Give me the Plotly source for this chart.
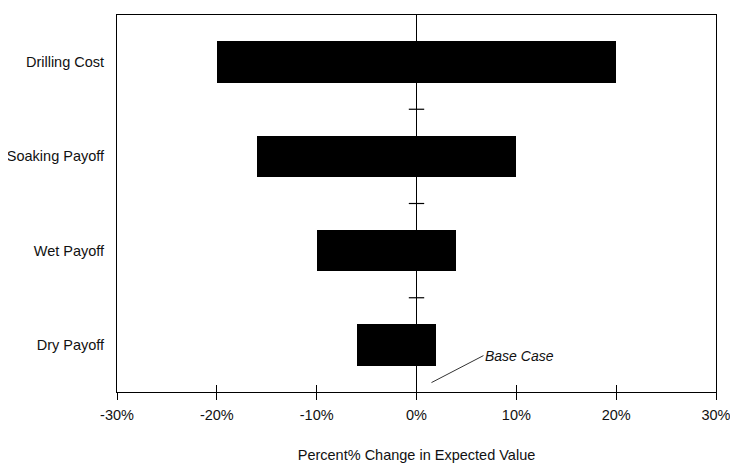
import plotly.graph_objects as go

# Data (bottom to top)
categories = ["Dry Payoff", "Wet Payoff", "Soaking Payoff", "Drilling Cost"]
low_values = [-6, -10, -16, -20]      # percent change, downside
high_values = [2, 4, 10, 20]          # percent change, upside
x_ticks = [-30, -20, -10, 0, 10, 20, 30]
x_tick_labels = ["-30%", "-20%", "-10%", "0%", "10%", "20%", "30%"]
divider_pos = [0.5, 1.5, 2.5]

ypos = list(range(len(categories)))
FONT = "Liberation Sans, Arial, sans-serif"

fig = go.Figure()
fig.add_trace(go.Bar(
    y=ypos,
    x=[h - l for l, h in zip(low_values, high_values)],
    base=low_values,
    orientation="h",
    width=0.44,
    marker=dict(color="black", line=dict(width=0)),
    showlegend=False,
    hoverinfo="skip",
))
# small tick marks on the zero line between categories
fig.add_trace(go.Scatter(
    x=[0] * len(divider_pos), y=divider_pos, mode="markers",
    marker=dict(symbol="line-ew", size=11, line=dict(color="black", width=1.2)),
    showlegend=False, hoverinfo="skip",
))
# dummy trace for overlay axis (inside ticks)
fig.add_trace(go.Scatter(x=[0], y=[0], xaxis="x2", yaxis="y", mode="markers",
                         marker=dict(opacity=0), showlegend=False, hoverinfo="skip"))

# page body has an 8px default margin, so the figure is sized to fit the window
fig.update_layout(
    width=730, height=456,
    margin=dict(l=109, r=22, t=7, b=72),
    paper_bgcolor="white", plot_bgcolor="white",
    font=dict(family=FONT, size=14.5, color="#111"),
    bargap=0,
    xaxis=dict(
        range=[-30, 30], tickvals=x_ticks, ticktext=x_tick_labels,
        ticks="outside", ticklen=7, tickcolor="black", tickwidth=1,
        showgrid=False, zeroline=True, zerolinecolor="black", zerolinewidth=1,
        showline=True, linecolor="black", linewidth=1, mirror=True,
        ticklabelstandoff=3, automargin=False,
        title=dict(text="Percent% Change in Expected Value", standoff=27,
                   font=dict(size=14.5)),
    ),
    xaxis2=dict(
        range=[-30, 30], overlaying="x", side="bottom", anchor="y",
        tickmode="array",
        tickvals=x_ticks, ticktext=[""] * len(x_ticks), showticklabels=True,
        ticks="inside", ticklen=7,
        tickcolor="black", tickwidth=1, showgrid=False, zeroline=False,
        showline=False, automargin=False,
    ),
    yaxis=dict(
        range=[-0.5, 3.5], tickvals=ypos, ticktext=categories,
        ticks="", showgrid=False, zeroline=False,
        showline=True, linecolor="black", linewidth=1, mirror=True,
        ticklabelstandoff=9, automargin=False,
    ),
)

fig.add_annotation(
    x=1.5, y=-0.40, xref="x", yref="y",
    text="<i>Base Case</i>", showarrow=True, arrowhead=0, arrowwidth=1,
    arrowcolor="#333", ax=52, ay=-27, xanchor="left", yanchor="middle",
    font=dict(size=14, color="#111"), standoff=0,
)

fig.write_html("out.html")
